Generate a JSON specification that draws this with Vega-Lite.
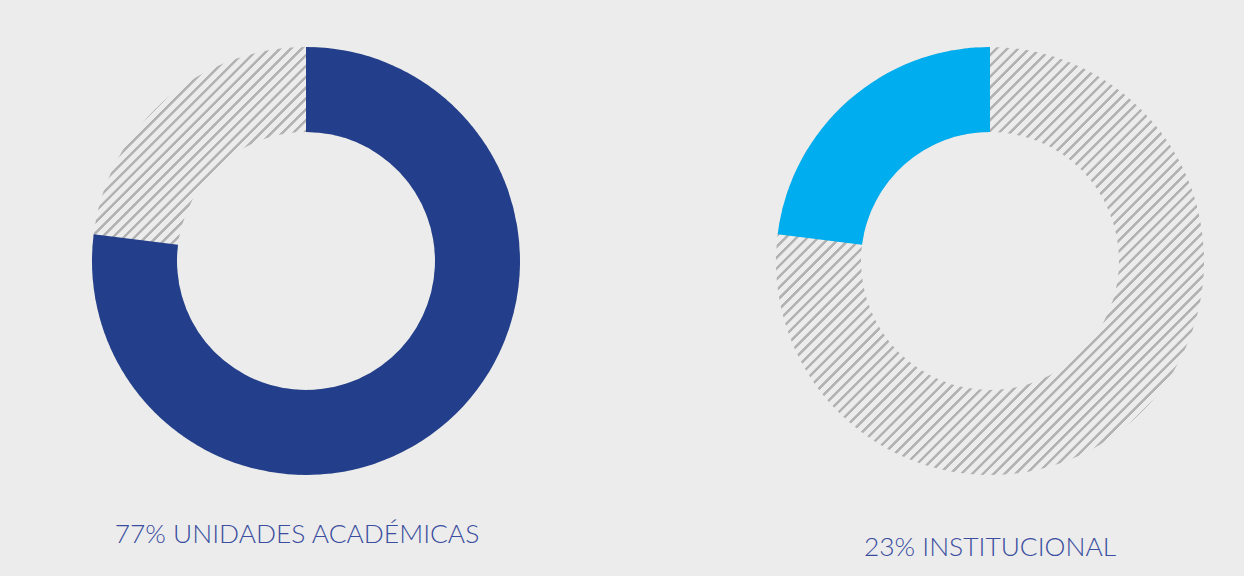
{
  "$schema": "https://vega.github.io/schema/vega-lite/v6.json",
  "background": "#EBECEB",
  "padding": {"left": 56, "top": 41, "right": 4, "bottom": 14},
  "data": {
    "values": [
      {"chart": "A", "segment": "Unidades académicas", "value": 77},
      {"chart": "A", "segment": "Resto", "value": 23},
      {"chart": "B", "segment": "Resto", "value": 77},
      {"chart": "B", "segment": "Institucional", "value": 23}
    ]
  },
  "spacing": 184,
  "hconcat": [
    {
      "width": 500,
      "height": 440,
      "title": {"text": "77% UNIDADES ACADÉMICAS", "orient": "bottom", "anchor": "middle", "offset": 62, "baseline": "alphabetic", "dx": -9},
      "transform": [{"filter": "datum.chart === 'A'"}],
      "layer": [
        {
          "transform": [{"aggregate": [{"op": "sum", "field": "value", "as": "total"}], "groupby": ["chart"]}],
          "mark": {"type": "arc", "radius": 214, "radius2": 129},
          "encoding": {"theta": {"field": "total", "type": "quantitative", "scale": {"domain": [0, 100]}}}
        },
        {
          "mark": {"type": "arc", "radius": 214, "radius2": 129},
          "encoding": {
            "theta": {"field": "value", "type": "quantitative", "stack": true, "scale": {"domain": [0, 100]}},
            "color": {"field": "segment", "type": "nominal", "legend": null, "scale": {"domain": ["Unidades académicas", "Resto"], "range": ["#233F8B", "transparent"]}},
            "order": {"field": "segment", "sort": "descending"}
          }
        }
      ]
    },
    {
      "width": 500,
      "height": 440,
      "title": {"text": "23% INSTITUCIONAL", "orient": "bottom", "anchor": "middle", "offset": 75, "baseline": "alphabetic"},
      "transform": [{"filter": "datum.chart === 'B'"}],
      "layer": [
        {
          "transform": [{"aggregate": [{"op": "sum", "field": "value", "as": "total"}], "groupby": ["chart"]}],
          "mark": {"type": "arc", "radius": 214, "radius2": 129},
          "encoding": {"theta": {"field": "total", "type": "quantitative", "scale": {"domain": [0, 100]}}}
        },
        {
          "mark": {"type": "arc", "radius": 214, "radius2": 129},
          "encoding": {
            "theta": {"field": "value", "type": "quantitative", "stack": true, "scale": {"domain": [0, 100]}},
            "color": {"field": "segment", "type": "nominal", "legend": null, "scale": {"domain": ["Institucional", "Resto"], "range": ["#00ADEE", "transparent"]}},
            "order": {"field": "segment", "sort": "descending"}
          }
        }
      ]
    }
  ],
  "resolve": {"scale": {"color": "independent", "theta": "independent"}},
  "config": {
    "view": {"stroke": null},
    "title": {"font": "Lato", "fontWeight": 300, "fontSize": 26.4, "color": "#3A4DA0"},
    "arc": {
      "stroke": null,
      "fill": {
        "gradient": "linear", "x1": 0, "y1": 0, "x2": 1, "y2": 1,
        "stops": [
          {"offset": 0, "color": "#EBECEB"},
          {"offset": 0.0038, "color": "#EBECEB"}, {"offset": 0.0047, "color": "#B1B2B1"}, {"offset": 0.0079, "color": "#B1B2B1"}, {"offset": 0.0089, "color": "#EBECEB"},
          {"offset": 0.0165, "color": "#EBECEB"}, {"offset": 0.0174, "color": "#B1B2B1"}, {"offset": 0.0206, "color": "#B1B2B1"}, {"offset": 0.0215, "color": "#EBECEB"},
          {"offset": 0.0291, "color": "#EBECEB"}, {"offset": 0.0300, "color": "#B1B2B1"}, {"offset": 0.0333, "color": "#B1B2B1"}, {"offset": 0.0342, "color": "#EBECEB"},
          {"offset": 0.0418, "color": "#EBECEB"}, {"offset": 0.0427, "color": "#B1B2B1"}, {"offset": 0.0459, "color": "#B1B2B1"}, {"offset": 0.0468, "color": "#EBECEB"},
          {"offset": 0.0544, "color": "#EBECEB"}, {"offset": 0.0553, "color": "#B1B2B1"}, {"offset": 0.0586, "color": "#B1B2B1"}, {"offset": 0.0595, "color": "#EBECEB"},
          {"offset": 0.0671, "color": "#EBECEB"}, {"offset": 0.0680, "color": "#B1B2B1"}, {"offset": 0.0712, "color": "#B1B2B1"}, {"offset": 0.0722, "color": "#EBECEB"},
          {"offset": 0.0797, "color": "#EBECEB"}, {"offset": 0.0807, "color": "#B1B2B1"}, {"offset": 0.0839, "color": "#B1B2B1"}, {"offset": 0.0848, "color": "#EBECEB"},
          {"offset": 0.0924, "color": "#EBECEB"}, {"offset": 0.0933, "color": "#B1B2B1"}, {"offset": 0.0966, "color": "#B1B2B1"}, {"offset": 0.0975, "color": "#EBECEB"},
          {"offset": 0.1051, "color": "#EBECEB"}, {"offset": 0.1060, "color": "#B1B2B1"}, {"offset": 0.1092, "color": "#B1B2B1"}, {"offset": 0.1101, "color": "#EBECEB"},
          {"offset": 0.1177, "color": "#EBECEB"}, {"offset": 0.1186, "color": "#B1B2B1"}, {"offset": 0.1219, "color": "#B1B2B1"}, {"offset": 0.1228, "color": "#EBECEB"},
          {"offset": 0.1304, "color": "#EBECEB"}, {"offset": 0.1313, "color": "#B1B2B1"}, {"offset": 0.1345, "color": "#B1B2B1"}, {"offset": 0.1354, "color": "#EBECEB"},
          {"offset": 0.1430, "color": "#EBECEB"}, {"offset": 0.1440, "color": "#B1B2B1"}, {"offset": 0.1472, "color": "#B1B2B1"}, {"offset": 0.1481, "color": "#EBECEB"},
          {"offset": 0.1557, "color": "#EBECEB"}, {"offset": 0.1566, "color": "#B1B2B1"}, {"offset": 0.1598, "color": "#B1B2B1"}, {"offset": 0.1608, "color": "#EBECEB"},
          {"offset": 0.1684, "color": "#EBECEB"}, {"offset": 0.1693, "color": "#B1B2B1"}, {"offset": 0.1725, "color": "#B1B2B1"}, {"offset": 0.1734, "color": "#EBECEB"},
          {"offset": 0.1810, "color": "#EBECEB"}, {"offset": 0.1819, "color": "#B1B2B1"}, {"offset": 0.1852, "color": "#B1B2B1"}, {"offset": 0.1861, "color": "#EBECEB"},
          {"offset": 0.1937, "color": "#EBECEB"}, {"offset": 0.1946, "color": "#B1B2B1"}, {"offset": 0.1978, "color": "#B1B2B1"}, {"offset": 0.1987, "color": "#EBECEB"},
          {"offset": 0.2063, "color": "#EBECEB"}, {"offset": 0.2072, "color": "#B1B2B1"}, {"offset": 0.2105, "color": "#B1B2B1"}, {"offset": 0.2114, "color": "#EBECEB"},
          {"offset": 0.2190, "color": "#EBECEB"}, {"offset": 0.2199, "color": "#B1B2B1"}, {"offset": 0.2231, "color": "#B1B2B1"}, {"offset": 0.2241, "color": "#EBECEB"},
          {"offset": 0.2316, "color": "#EBECEB"}, {"offset": 0.2326, "color": "#B1B2B1"}, {"offset": 0.2358, "color": "#B1B2B1"}, {"offset": 0.2367, "color": "#EBECEB"},
          {"offset": 0.2443, "color": "#EBECEB"}, {"offset": 0.2452, "color": "#B1B2B1"}, {"offset": 0.2485, "color": "#B1B2B1"}, {"offset": 0.2494, "color": "#EBECEB"},
          {"offset": 0.2570, "color": "#EBECEB"}, {"offset": 0.2579, "color": "#B1B2B1"}, {"offset": 0.2611, "color": "#B1B2B1"}, {"offset": 0.2620, "color": "#EBECEB"},
          {"offset": 0.2696, "color": "#EBECEB"}, {"offset": 0.2705, "color": "#B1B2B1"}, {"offset": 0.2738, "color": "#B1B2B1"}, {"offset": 0.2747, "color": "#EBECEB"},
          {"offset": 0.2823, "color": "#EBECEB"}, {"offset": 0.2832, "color": "#B1B2B1"}, {"offset": 0.2864, "color": "#B1B2B1"}, {"offset": 0.2873, "color": "#EBECEB"},
          {"offset": 0.2949, "color": "#EBECEB"}, {"offset": 0.2958, "color": "#B1B2B1"}, {"offset": 0.2991, "color": "#B1B2B1"}, {"offset": 0.3000, "color": "#EBECEB"},
          {"offset": 0.3076, "color": "#EBECEB"}, {"offset": 0.3085, "color": "#B1B2B1"}, {"offset": 0.3117, "color": "#B1B2B1"}, {"offset": 0.3127, "color": "#EBECEB"},
          {"offset": 0.3203, "color": "#EBECEB"}, {"offset": 0.3212, "color": "#B1B2B1"}, {"offset": 0.3244, "color": "#B1B2B1"}, {"offset": 0.3253, "color": "#EBECEB"},
          {"offset": 0.3329, "color": "#EBECEB"}, {"offset": 0.3338, "color": "#B1B2B1"}, {"offset": 0.3371, "color": "#B1B2B1"}, {"offset": 0.3380, "color": "#EBECEB"},
          {"offset": 0.3456, "color": "#EBECEB"}, {"offset": 0.3465, "color": "#B1B2B1"}, {"offset": 0.3497, "color": "#B1B2B1"}, {"offset": 0.3506, "color": "#EBECEB"},
          {"offset": 0.3582, "color": "#EBECEB"}, {"offset": 0.3591, "color": "#B1B2B1"}, {"offset": 0.3624, "color": "#B1B2B1"}, {"offset": 0.3633, "color": "#EBECEB"},
          {"offset": 0.3709, "color": "#EBECEB"}, {"offset": 0.3718, "color": "#B1B2B1"}, {"offset": 0.3750, "color": "#B1B2B1"}, {"offset": 0.3760, "color": "#EBECEB"},
          {"offset": 0.3835, "color": "#EBECEB"}, {"offset": 0.3845, "color": "#B1B2B1"}, {"offset": 0.3877, "color": "#B1B2B1"}, {"offset": 0.3886, "color": "#EBECEB"},
          {"offset": 0.3962, "color": "#EBECEB"}, {"offset": 0.3971, "color": "#B1B2B1"}, {"offset": 0.4004, "color": "#B1B2B1"}, {"offset": 0.4013, "color": "#EBECEB"},
          {"offset": 0.4089, "color": "#EBECEB"}, {"offset": 0.4098, "color": "#B1B2B1"}, {"offset": 0.4130, "color": "#B1B2B1"}, {"offset": 0.4139, "color": "#EBECEB"},
          {"offset": 0.4215, "color": "#EBECEB"}, {"offset": 0.4224, "color": "#B1B2B1"}, {"offset": 0.4257, "color": "#B1B2B1"}, {"offset": 0.4266, "color": "#EBECEB"},
          {"offset": 0.4342, "color": "#EBECEB"}, {"offset": 0.4351, "color": "#B1B2B1"}, {"offset": 0.4383, "color": "#B1B2B1"}, {"offset": 0.4392, "color": "#EBECEB"},
          {"offset": 0.4468, "color": "#EBECEB"}, {"offset": 0.4477, "color": "#B1B2B1"}, {"offset": 0.4510, "color": "#B1B2B1"}, {"offset": 0.4519, "color": "#EBECEB"},
          {"offset": 0.4595, "color": "#EBECEB"}, {"offset": 0.4604, "color": "#B1B2B1"}, {"offset": 0.4636, "color": "#B1B2B1"}, {"offset": 0.4646, "color": "#EBECEB"},
          {"offset": 0.4722, "color": "#EBECEB"}, {"offset": 0.4731, "color": "#B1B2B1"}, {"offset": 0.4763, "color": "#B1B2B1"}, {"offset": 0.4772, "color": "#EBECEB"},
          {"offset": 0.4848, "color": "#EBECEB"}, {"offset": 0.4857, "color": "#B1B2B1"}, {"offset": 0.4890, "color": "#B1B2B1"}, {"offset": 0.4899, "color": "#EBECEB"},
          {"offset": 0.4975, "color": "#EBECEB"}, {"offset": 0.4984, "color": "#B1B2B1"}, {"offset": 0.5016, "color": "#B1B2B1"}, {"offset": 0.5025, "color": "#EBECEB"},
          {"offset": 0.5101, "color": "#EBECEB"}, {"offset": 0.5110, "color": "#B1B2B1"}, {"offset": 0.5143, "color": "#B1B2B1"}, {"offset": 0.5152, "color": "#EBECEB"},
          {"offset": 0.5228, "color": "#EBECEB"}, {"offset": 0.5237, "color": "#B1B2B1"}, {"offset": 0.5269, "color": "#B1B2B1"}, {"offset": 0.5278, "color": "#EBECEB"},
          {"offset": 0.5354, "color": "#EBECEB"}, {"offset": 0.5364, "color": "#B1B2B1"}, {"offset": 0.5396, "color": "#B1B2B1"}, {"offset": 0.5405, "color": "#EBECEB"},
          {"offset": 0.5481, "color": "#EBECEB"}, {"offset": 0.5490, "color": "#B1B2B1"}, {"offset": 0.5523, "color": "#B1B2B1"}, {"offset": 0.5532, "color": "#EBECEB"},
          {"offset": 0.5608, "color": "#EBECEB"}, {"offset": 0.5617, "color": "#B1B2B1"}, {"offset": 0.5649, "color": "#B1B2B1"}, {"offset": 0.5658, "color": "#EBECEB"},
          {"offset": 0.5734, "color": "#EBECEB"}, {"offset": 0.5743, "color": "#B1B2B1"}, {"offset": 0.5776, "color": "#B1B2B1"}, {"offset": 0.5785, "color": "#EBECEB"},
          {"offset": 0.5861, "color": "#EBECEB"}, {"offset": 0.5870, "color": "#B1B2B1"}, {"offset": 0.5902, "color": "#B1B2B1"}, {"offset": 0.5911, "color": "#EBECEB"},
          {"offset": 0.5987, "color": "#EBECEB"}, {"offset": 0.5996, "color": "#B1B2B1"}, {"offset": 0.6029, "color": "#B1B2B1"}, {"offset": 0.6038, "color": "#EBECEB"},
          {"offset": 0.6114, "color": "#EBECEB"}, {"offset": 0.6123, "color": "#B1B2B1"}, {"offset": 0.6155, "color": "#B1B2B1"}, {"offset": 0.6165, "color": "#EBECEB"},
          {"offset": 0.6241, "color": "#EBECEB"}, {"offset": 0.6250, "color": "#B1B2B1"}, {"offset": 0.6282, "color": "#B1B2B1"}, {"offset": 0.6291, "color": "#EBECEB"},
          {"offset": 0.6367, "color": "#EBECEB"}, {"offset": 0.6376, "color": "#B1B2B1"}, {"offset": 0.6409, "color": "#B1B2B1"}, {"offset": 0.6418, "color": "#EBECEB"},
          {"offset": 0.6494, "color": "#EBECEB"}, {"offset": 0.6503, "color": "#B1B2B1"}, {"offset": 0.6535, "color": "#B1B2B1"}, {"offset": 0.6544, "color": "#EBECEB"},
          {"offset": 0.6620, "color": "#EBECEB"}, {"offset": 0.6629, "color": "#B1B2B1"}, {"offset": 0.6662, "color": "#B1B2B1"}, {"offset": 0.6671, "color": "#EBECEB"},
          {"offset": 0.6747, "color": "#EBECEB"}, {"offset": 0.6756, "color": "#B1B2B1"}, {"offset": 0.6788, "color": "#B1B2B1"}, {"offset": 0.6797, "color": "#EBECEB"},
          {"offset": 0.6873, "color": "#EBECEB"}, {"offset": 0.6883, "color": "#B1B2B1"}, {"offset": 0.6915, "color": "#B1B2B1"}, {"offset": 0.6924, "color": "#EBECEB"},
          {"offset": 0.7000, "color": "#EBECEB"}, {"offset": 0.7009, "color": "#B1B2B1"}, {"offset": 0.7042, "color": "#B1B2B1"}, {"offset": 0.7051, "color": "#EBECEB"},
          {"offset": 0.7127, "color": "#EBECEB"}, {"offset": 0.7136, "color": "#B1B2B1"}, {"offset": 0.7168, "color": "#B1B2B1"}, {"offset": 0.7177, "color": "#EBECEB"},
          {"offset": 0.7253, "color": "#EBECEB"}, {"offset": 0.7262, "color": "#B1B2B1"}, {"offset": 0.7295, "color": "#B1B2B1"}, {"offset": 0.7304, "color": "#EBECEB"},
          {"offset": 0.7380, "color": "#EBECEB"}, {"offset": 0.7389, "color": "#B1B2B1"}, {"offset": 0.7421, "color": "#B1B2B1"}, {"offset": 0.7430, "color": "#EBECEB"},
          {"offset": 0.7506, "color": "#EBECEB"}, {"offset": 0.7515, "color": "#B1B2B1"}, {"offset": 0.7548, "color": "#B1B2B1"}, {"offset": 0.7557, "color": "#EBECEB"},
          {"offset": 0.7633, "color": "#EBECEB"}, {"offset": 0.7642, "color": "#B1B2B1"}, {"offset": 0.7674, "color": "#B1B2B1"}, {"offset": 0.7684, "color": "#EBECEB"},
          {"offset": 0.7759, "color": "#EBECEB"}, {"offset": 0.7769, "color": "#B1B2B1"}, {"offset": 0.7801, "color": "#B1B2B1"}, {"offset": 0.7810, "color": "#EBECEB"},
          {"offset": 0.7886, "color": "#EBECEB"}, {"offset": 0.7895, "color": "#B1B2B1"}, {"offset": 0.7928, "color": "#B1B2B1"}, {"offset": 0.7937, "color": "#EBECEB"},
          {"offset": 0.8013, "color": "#EBECEB"}, {"offset": 0.8022, "color": "#B1B2B1"}, {"offset": 0.8054, "color": "#B1B2B1"}, {"offset": 0.8063, "color": "#EBECEB"},
          {"offset": 0.8139, "color": "#EBECEB"}, {"offset": 0.8148, "color": "#B1B2B1"}, {"offset": 0.8181, "color": "#B1B2B1"}, {"offset": 0.8190, "color": "#EBECEB"},
          {"offset": 0.8266, "color": "#EBECEB"}, {"offset": 0.8275, "color": "#B1B2B1"}, {"offset": 0.8307, "color": "#B1B2B1"}, {"offset": 0.8316, "color": "#EBECEB"},
          {"offset": 0.8392, "color": "#EBECEB"}, {"offset": 0.8402, "color": "#B1B2B1"}, {"offset": 0.8434, "color": "#B1B2B1"}, {"offset": 0.8443, "color": "#EBECEB"},
          {"offset": 0.8519, "color": "#EBECEB"}, {"offset": 0.8528, "color": "#B1B2B1"}, {"offset": 0.8560, "color": "#B1B2B1"}, {"offset": 0.8570, "color": "#EBECEB"},
          {"offset": 0.8646, "color": "#EBECEB"}, {"offset": 0.8655, "color": "#B1B2B1"}, {"offset": 0.8687, "color": "#B1B2B1"}, {"offset": 0.8696, "color": "#EBECEB"},
          {"offset": 0.8772, "color": "#EBECEB"}, {"offset": 0.8781, "color": "#B1B2B1"}, {"offset": 0.8814, "color": "#B1B2B1"}, {"offset": 0.8823, "color": "#EBECEB"},
          {"offset": 0.8899, "color": "#EBECEB"}, {"offset": 0.8908, "color": "#B1B2B1"}, {"offset": 0.8940, "color": "#B1B2B1"}, {"offset": 0.8949, "color": "#EBECEB"},
          {"offset": 0.9025, "color": "#EBECEB"}, {"offset": 0.9034, "color": "#B1B2B1"}, {"offset": 0.9067, "color": "#B1B2B1"}, {"offset": 0.9076, "color": "#EBECEB"},
          {"offset": 0.9152, "color": "#EBECEB"}, {"offset": 0.9161, "color": "#B1B2B1"}, {"offset": 0.9193, "color": "#B1B2B1"}, {"offset": 0.9203, "color": "#EBECEB"},
          {"offset": 0.9278, "color": "#EBECEB"}, {"offset": 0.9288, "color": "#B1B2B1"}, {"offset": 0.9320, "color": "#B1B2B1"}, {"offset": 0.9329, "color": "#EBECEB"},
          {"offset": 0.9405, "color": "#EBECEB"}, {"offset": 0.9414, "color": "#B1B2B1"}, {"offset": 0.9447, "color": "#B1B2B1"}, {"offset": 0.9456, "color": "#EBECEB"},
          {"offset": 0.9532, "color": "#EBECEB"}, {"offset": 0.9541, "color": "#B1B2B1"}, {"offset": 0.9573, "color": "#B1B2B1"}, {"offset": 0.9582, "color": "#EBECEB"},
          {"offset": 0.9658, "color": "#EBECEB"}, {"offset": 0.9667, "color": "#B1B2B1"}, {"offset": 0.9700, "color": "#B1B2B1"}, {"offset": 0.9709, "color": "#EBECEB"},
          {"offset": 0.9785, "color": "#EBECEB"}, {"offset": 0.9794, "color": "#B1B2B1"}, {"offset": 0.9826, "color": "#B1B2B1"}, {"offset": 0.9835, "color": "#EBECEB"},
          {"offset": 0.9911, "color": "#EBECEB"}, {"offset": 0.9921, "color": "#B1B2B1"}, {"offset": 0.9953, "color": "#B1B2B1"}, {"offset": 0.9962, "color": "#EBECEB"},
          {"offset": 1, "color": "#EBECEB"}
        ]
      }
    }
  }
}
